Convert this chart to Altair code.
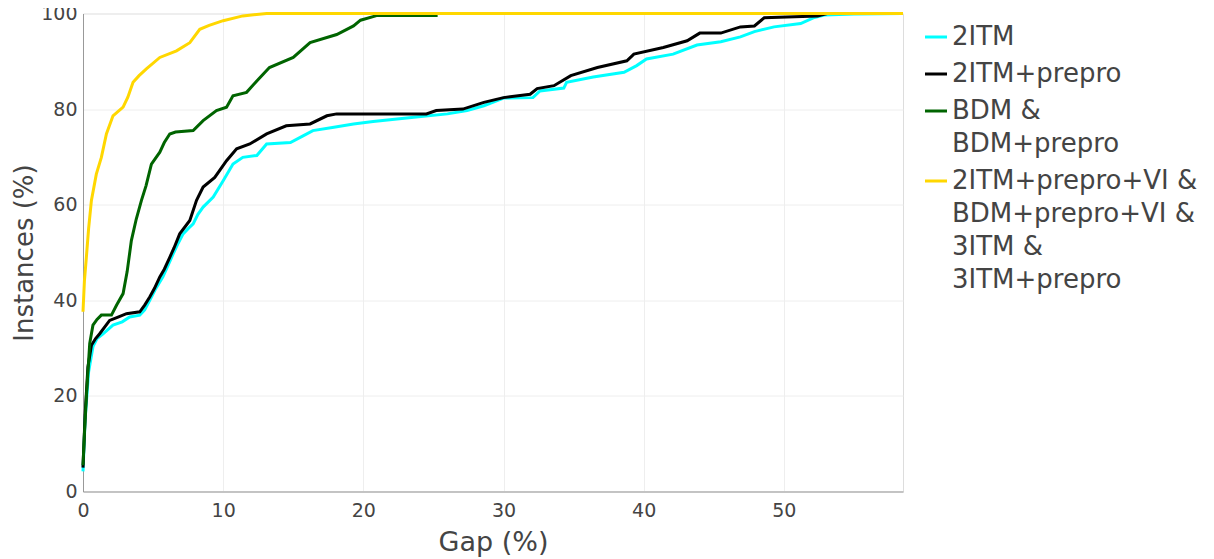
import altair as alt
import pandas as pd

# ---- data ----
series_names = [
    "2ITM",
    "2ITM+prepro",
    "BDM &\nBDM+prepro",
    "2ITM+prepro+VI &\nBDM+prepro+VI &\n3ITM &\n3ITM+prepro",
]
series_colors = ["#00FFFF", "#000000", "#006400", "#FFD700"]

cyan_x = [0, 0.15, 0.4, 0.71, 1.0, 1.43, 2.14, 2.8, 3.33, 4.05, 4.4, 4.76, 5.2, 5.7, 6.1, 6.43,
          6.8, 7.14, 7.5, 7.86, 8.2, 8.57, 9.29, 10.0, 10.7, 11.4, 12.4, 13.1, 14.8, 15.7, 16.4,
          17.9, 19.3, 20.7, 23.6, 26.0, 27.4, 28.6, 30.0, 32.1, 32.6, 34.3, 34.5, 36.4, 38.6,
          39.5, 40.2, 42.1, 43.8, 45.5, 46.9, 47.9, 49.3, 51.2, 52.1, 52.9, 55.0, 58.4]
cyan_y = [4.2, 15, 25, 30.3, 32, 33, 34.8, 35.5, 36.5, 36.9, 38, 40, 42.5, 44.9, 47.5, 49.7,
          52, 53.9, 55, 56, 58, 59.5, 61.6, 65, 68.5, 69.9, 70.3, 72.7, 73, 74.4, 75.5,
          76.2, 76.9, 77.4, 78.3, 79, 79.7, 80.7, 82.3, 82.4, 83.8, 84.4, 85.6, 86.7, 87.7,
          89.1, 90.5, 91.5, 93.4, 94.1, 95.1, 96.2, 97.2, 97.9, 99.1, 99.7, 99.9, 100]

black_x = [0, 0.15, 0.35, 0.6, 0.9, 1.19, 1.9, 2.5, 3.1, 4.05, 4.4, 4.76, 5.1, 5.48, 5.8, 6.19,
           6.5, 6.9, 7.62, 8.1, 8.57, 9.4, 10.24, 10.96, 11.9, 13.1, 14.5, 16.2, 17.4, 18.1,
           24.5, 25.2, 27.1, 28.6, 30.0, 31.9, 32.4, 33.6, 34.8, 36.7, 38.8, 39.3, 41.4, 43.1,
           44.0, 45.5, 46.9, 47.9, 48.6, 52.4, 53.1]
black_y = [5, 16, 26, 30.6, 32, 33, 35.8, 36.5, 37.2, 37.6, 39, 40.7, 42.5, 44.9, 46.5, 49,
           51, 53.9, 56.7, 60.9, 63.7, 65.7, 69.2, 71.7, 72.7, 74.8, 76.5, 76.9, 78.6, 79,
           79, 79.7, 80, 81.4, 82.4, 83.1, 84.3, 84.9, 87, 88.7, 90.1, 91.5, 92.9, 94.3,
           95.9, 95.9, 97.2, 97.4, 99.1, 99.5, 100]

green_x = [0, 0.1, 0.24, 0.48, 0.71, 1.0, 1.31, 2.03, 2.4, 2.86, 3.15, 3.45, 3.8, 4.17, 4.5,
           4.88, 5.48, 5.8, 6.19, 6.6, 7.86, 8.57, 9.52, 10.24, 10.7, 11.67, 12.4, 13.3, 15.0,
           16.2, 18.1, 19.3, 19.8, 21.0, 25.3]
green_y = [5.5, 12, 19.8, 31, 34.8, 36, 36.9, 36.9, 39, 41.4, 46, 52.5, 57, 60.9, 64,
           68.5, 71, 73, 74.8, 75.2, 75.5, 77.6, 79.7, 80.4, 82.8, 83.5, 85.9, 88.7, 90.8,
           93.9, 95.6, 97.4, 98.6, 99.6, 99.6]

yellow_x = [0, 0.1, 0.24, 0.4, 0.6, 0.95, 1.31, 1.67, 2.14, 2.86, 3.2, 3.57, 4.0, 4.52, 5.48,
            6.67, 7.62, 8.33, 9.0, 10.0, 11.4, 13.1, 58.5]
yellow_y = [37.6, 44, 49, 55, 60.9, 66.4, 69.9, 74.8, 78.6, 80.4, 82.5, 85.6, 87, 88.4, 90.8,
            92.2, 93.9, 96.7, 97.5, 98.5, 99.5, 100, 100]

x_ticks = [0, 10, 20, 30, 40, 50]
y_ticks = [0, 20, 40, 60, 80, 100]

FONT = "DejaVu Sans"
TXT = "#444444"

all_x = [cyan_x, black_x, green_x, yellow_x]
all_y = [cyan_y, black_y, green_y, yellow_y]

color = alt.Color(
    "series:N",
    scale=alt.Scale(domain=series_names, range=series_colors),
    legend=alt.Legend(
        title=None,
        orient="none",
        legendX=840,
        legendY=10.5,
        symbolType="stroke",
        symbolSize=484,
        symbolStrokeWidth=3,
        labelFont=FONT,
        labelFontSize=26,
        labelColor=TXT,
        labelOffset=3,
        rowPadding=11,
        labelExpr="split(datum.label, '\\n')",
        labelLimit=400,
    ),
)

x_axis = alt.Axis(
    title="Gap (%)", values=x_ticks, ticks=False, grid=True, gridColor="#eeeeee",
    domainColor="#999999", labelFont=FONT, labelFontSize=19, labelColor=TXT,
    labelPadding=10, titleFont=FONT, titleFontSize=27, titleColor=TXT,
    titleFontWeight="normal", titlePadding=9, labelFlush=False,
)
y_axis = alt.Axis(
    title="Instances (%)", values=y_ticks, ticks=False, grid=True, gridColor="#eeeeee",
    domainColor="#999999", labelFont=FONT, labelFontSize=19, labelColor=TXT,
    labelPadding=6, titleFont=FONT, titleFontSize=26, titleColor=TXT,
    titleFontWeight="normal", titlePadding=3, labelFlush=False,
)

layers = []
for i, name in enumerate(series_names):
    df = pd.DataFrame({"x": all_x[i], "y": all_y[i], "series": name})
    enc_x = alt.X("x:Q", scale=alt.Scale(domain=[0, 58.5], nice=False, zero=False), axis=x_axis)
    enc_y = alt.Y("y:Q", scale=alt.Scale(domain=[0, 100], nice=False), axis=y_axis)
    layers.append(
        alt.Chart(df).mark_line(strokeWidth=3, interpolate="linear").encode(
            x=enc_x, y=enc_y, color=color, order=alt.Order("x:Q")
        )
    )

chart = (
    alt.layer(*layers)
    .properties(
        width=820,
        height=478,
        autosize=alt.AutoSizeParams(type="none"),
        padding={"left": 75, "top": 5.5, "right": 300, "bottom": 67.5},
    )
    .configure_view(strokeWidth=0)
    .configure(style={"guide-label": {"lineHeight": 33}})
)

chart.save("out.html", embed_options={"renderer": "svg", "actions": False})
